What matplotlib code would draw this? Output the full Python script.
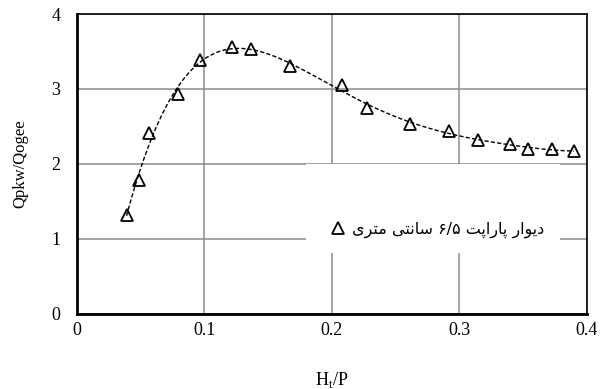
import numpy as np
import matplotlib
matplotlib.use('Agg')
import matplotlib.pyplot as plt
from matplotlib.patches import Rectangle

# discharge ratio vs. head ratio
ht_p = [0.039, 0.049, 0.057, 0.079, 0.097, 0.122, 0.137, 0.167, 0.208,
        0.228, 0.261, 0.292, 0.315, 0.340, 0.354, 0.373, 0.390]
q_ratio = [1.32, 1.79, 2.41, 2.93, 3.39, 3.56, 3.53, 3.30, 3.05,
           2.75, 2.53, 2.44, 2.32, 2.26, 2.20, 2.20, 2.17]
series_label = 'دیوار پاراپت ۶/۵ سانتی متری'

x_ticks = [0, 0.1, 0.2, 0.3, 0.4]
y_ticks = [0, 1, 2, 3, 4]

# contextual forms: isolated, final, initial, medial
FORMS = {
    'ا': ('\uFE8D', '\uFE8E', None, None),
    'د': ('\uFEA9', '\uFEAA', None, None),
    'ر': ('\uFEAD', '\uFEAE', None, None),
    'و': ('\uFEED', '\uFEEE', None, None),
    'ی': ('\uFBFC', '\uFBFD', '\uFBFE', '\uFBFF'),
    'پ': ('\uFB56', '\uFB57', '\uFB58', '\uFB59'),
    'ت': ('\uFE95', '\uFE96', '\uFE97', '\uFE98'),
    'س': ('\uFEB1', '\uFEB2', '\uFEB3', '\uFEB4'),
    'ن': ('\uFEE5', '\uFEE6', '\uFEE7', '\uFEE8'),
    'م': ('\uFEE1', '\uFEE2', '\uFEE3', '\uFEE4'),
}


def shape_word(word):
    out = []
    for i, ch in enumerate(word):
        if ch not in FORMS:
            out.append(ch)
            continue
        prev = word[i - 1] if i > 0 else None
        nxt = word[i + 1] if i + 1 < len(word) else None
        join_prev = prev in FORMS and FORMS[prev][2] is not None
        join_next = nxt in FORMS and FORMS[ch][2] is not None
        iso, fin, ini, med = FORMS[ch]
        if join_prev and join_next:
            out.append(med)
        elif join_prev:
            out.append(fin)
        elif join_next:
            out.append(ini)
        else:
            out.append(iso)
    return ''.join(out)


def rtl(text):
    words = []
    for w in text.split(' '):
        if any(c in FORMS for c in w):
            words.append(shape_word(w)[::-1])
        else:
            words.append(w)
    return ' '.join(words[::-1])


plt.rcParams['font.family'] = ['Liberation Serif', 'DejaVu Serif']

fig = plt.figure(figsize=(6, 3.89), dpi=100)
ax = fig.add_axes([0.128, 0.193, 0.85, 0.771])

# trendline through the measured points
coef = np.polyfit(ht_p, q_ratio, 6)
xs = np.linspace(min(ht_p), max(ht_p), 300)
ax.plot(xs, np.polyval(coef, xs), color='black', lw=1.0,
        dashes=(3, 1.6), zorder=3)

ax.plot(ht_p, q_ratio, linestyle='none', marker='^', ms=9,
        mfc='none', mec='black', mew=1.3, zorder=4, label=rtl(series_label))

ax.set_xlim(0, 0.4)
ax.set_ylim(0, 4)
ax.set_xticks(x_ticks)
ax.set_xticklabels(['0', '0.1', '0.2', '0.3', '0.4'])
ax.set_yticks(y_ticks)
ax.tick_params(length=0, labelsize=13)
ax.tick_params(axis='y', pad=12)
ax.tick_params(axis='x', pad=6)
ax.grid(True, color='#8c8c8c', lw=1.1)
ax.set_axisbelow(True)

for side in ['left', 'bottom']:
    ax.spines[side].set_linewidth(2.0)
for side in ['top', 'right']:
    ax.spines[side].set_linewidth(1.2)

ax.set_xlabel('H$_\\mathregular{t}$/P', fontsize=13, labelpad=22)
ax.set_ylabel('Qpkw/Qogee', fontsize=12, labelpad=16)

# white legend area over the grid
box = Rectangle((0.4497, 0.2022), 0.4975, 0.2965, transform=ax.transAxes,
                facecolor='white', edgecolor='none', zorder=2)
ax.add_patch(box)
leg = ax.legend(loc='center', bbox_to_anchor=(0.705, 0.28),
                frameon=False, handletextpad=0.3, handlelength=1.2,
                prop={'family': 'DejaVu Sans', 'size': 11.5})
leg.set_zorder(5)

fig.savefig('out.png', dpi=100)
